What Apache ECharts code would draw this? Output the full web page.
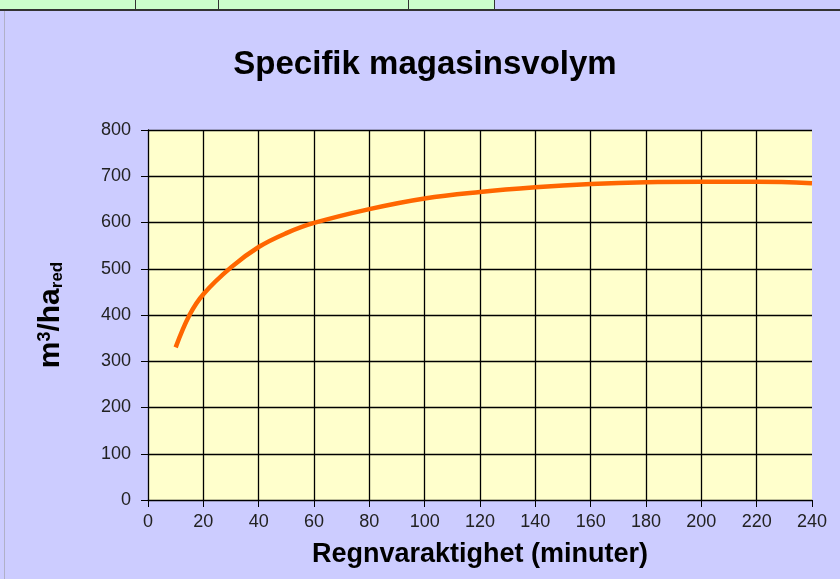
<!DOCTYPE html>
<html>
<head>
  <meta charset="utf-8" />
  <title>Specifik magasinsvolym</title>
  <script src="https://cdn.jsdelivr.net/npm/echarts@6.0.0/dist/echarts.min.js"></script>
  <style>
    body { margin: 0; background: #ccccff; }
  </style>
</head>
<body>
  <div id="main" style="width: 840px;height:579px;"></div>
  <script type="text/javascript">
    var myChart = echarts.init(document.getElementById('main'));

    // regnvaraktighet (minuter) och specifik magasinsvolym (m3/ha red)
    let minutes = [10, 15, 20, 30, 40, 50, 60, 80, 100, 120, 140, 160, 180, 200, 220, 240];
    let volume = [330, 400, 445, 503, 547, 577, 599, 629, 652, 666, 676, 683, 687, 688, 688, 685];
    let xTicks = ['0', '20', '40', '60', '80', '100', '120', '140', '160', '180', '200', '220', '240'];
    let yTicks = ['0', '100', '200', '300', '400', '500', '600', '700', '800'];

    let font = '"Liberation Sans", Arial, sans-serif';
    let gridLine = { lineStyle: { color: '#000', width: 1.3 } };

    var option = {
      backgroundColor: '#ccccff',
      animation: false,
      title: {
        text: 'Specifik magasinsvolym',
        left: 420,
        top: 43,
        textAlign: 'center',
        textStyle: { fontFamily: font, fontSize: 33, fontWeight: 'bold', color: '#000' }
      },
      graphic: [
        { type: 'rect', shape: { x: 0, y: 0, width: 840, height: 9 }, style: { fill: '#ccffcc' } },
        { type: 'rect', shape: { x: 495, y: 0, width: 345, height: 9 }, style: { fill: '#ccccff' } },
        { type: 'rect', shape: { x: 0, y: 9, width: 840, height: 2 }, style: { fill: '#333' } },
        { type: 'rect', shape: { x: 135, y: 0, width: 1, height: 9 }, style: { fill: '#333' } },
        { type: 'rect', shape: { x: 218, y: 0, width: 1, height: 9 }, style: { fill: '#333' } },
        { type: 'rect', shape: { x: 408, y: 0, width: 1, height: 9 }, style: { fill: '#333' } },
        { type: 'rect', shape: { x: 494, y: 0, width: 1, height: 9 }, style: { fill: '#333' } },
        { type: 'rect', shape: { x: 4, y: 11, width: 1, height: 568 }, style: { fill: '#b0b0c8' } }
      ],
      grid: { left: 148, top: 130, width: 664, height: 370, containLabel: false,
              show: true, backgroundColor: '#ffffcc', borderWidth: 0 },
      xAxis: {
        type: 'value',
        min: 0, max: 240, interval: 20,
        name: 'Regnvaraktighet (minuter)',
        nameLocation: 'middle',
        nameGap: 41,
        nameTextStyle: { fontFamily: font, fontSize: 27, fontWeight: 'bold', color: '#000' },
        axisLine: { show: true, lineStyle: { color: '#000', width: 1.3 } },
        axisTick: { show: true, length: 7, lineStyle: { color: '#000' } },
        axisLabel: {
          fontFamily: font, fontSize: 18, color: '#222', margin: 13,
          formatter: function (v) { return xTicks[v / 20]; }
        },
        splitLine: Object.assign({ show: true, showMinLine: false, showMaxLine: false }, gridLine)
      },
      yAxis: {
        type: 'value',
        min: 0, max: 800, interval: 100,
        name: '{a|m}{sup|3}{a|/ha}{sub|red}',
        nameLocation: 'middle',
        nameGap: 82,
        nameRotate: 90,
        nameTextStyle: {
          rich: {
            a: { fontFamily: font, fontSize: 30, fontWeight: 'bold', color: '#000' },
            sup: { fontFamily: font, fontSize: 18, fontWeight: 'bold', color: '#000', verticalAlign: 'top', lineHeight: 18, padding: [0, 0, 14, 0] },
            sub: { fontFamily: font, fontSize: 17, fontWeight: 'bold', color: '#000', verticalAlign: 'bottom', padding: [12, 0, 0, 0] }
          }
        },
        axisLine: { show: true, lineStyle: { color: '#000', width: 1.3 } },
        axisTick: { show: true, length: 7, lineStyle: { color: '#000' } },
        axisLabel: {
          fontFamily: font, fontSize: 18, color: '#222', margin: 17,
          formatter: function (v) { return yTicks[v / 100]; }
        },
        splitLine: Object.assign({ show: true, showMinLine: false }, gridLine)
      },
      series: [{
        type: 'line',
        data: minutes.map((m, i) => [m, volume[i]]),
        smooth: 0.4,
        symbol: 'none',
        lineStyle: { color: '#ff6600', width: 4.5 }
      }]
    };

    myChart.setOption(option);
  </script>
</body>
</html>
